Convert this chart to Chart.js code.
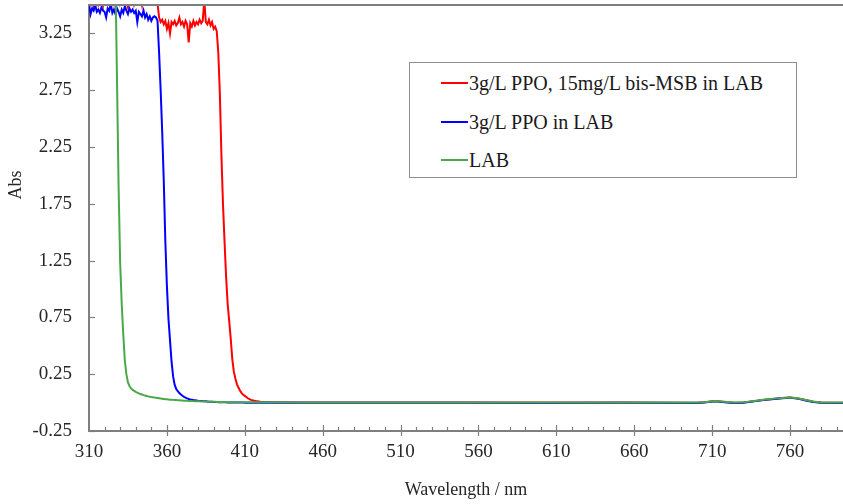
<!DOCTYPE html>
<html>
<head>
<meta charset="utf-8">
<script src="https://cdn.jsdelivr.net/npm/chart.js@4.4.0/dist/chart.umd.min.js"></script>
<style>
    body { margin: 0; background: #fff; }
    #wrap { position: relative; width: 843px; height: 504px; }
    #legend {
        position: absolute; left: 409px; top: 62px; width: 386px; height: 114px;
        border: 1px solid #8c8c8c; background: #fff;
        font-family: "Liberation Serif", "Times New Roman", serif; font-size: 20px; color: #1a1a1a;
    }
    .row { position: absolute; left: 31px; height: 24px; display: flex; align-items: center; white-space: nowrap; }
    .swatch { width: 27px; height: 2px; margin-right: 1px; }
</style>
</head>
<body>
<div id="wrap">
    <canvas id="absChart" width="843" height="504"></canvas>
    <div id="legend"></div>
</div>
<script>
// --- DATA ---
// 1 nm steps from 310 to 420, then a sparse tail
const denseStart = 310, denseEnd = 420;
const tailWavelengths = [430, 450, 500, 550, 600, 650, 700, 705, 712, 718, 724, 730, 737, 744, 750, 755, 760, 765, 770, 775, 780, 790, 800];

const seriesLabels = ['3g/L PPO, 15mg/L bis-MSB in LAB', '3g/L PPO in LAB', 'LAB'];
const seriesColors = ['#ff0000', '#0000ff', '#4aa84a'];

const redAbs = [
    3.55, 3.61, 3.53, 3.48, 3.57, 3.64, 3.52, 3.59, 3.56, 3.50,
    3.62, 3.54, 3.58, 3.53, 3.60, 3.55, 3.51, 3.59, 3.56, 3.64,
    3.52, 3.57, 3.54, 3.61, 3.53, 3.48, 3.58, 3.55, 3.62, 3.51,
    3.56, 3.59, 3.53, 3.57, 3.50, 3.61, 3.54, 3.58, 3.52, 3.56,
    3.59, 3.55, 3.53, 3.54, 3.51, 3.39, 3.35, 3.37, 3.33, 3.36,
    3.29, 3.34, 3.25, 3.35, 3.33, 3.36, 3.32, 3.34, 3.39, 3.33,
    3.35, 3.31, 3.36, 3.33, 3.17, 3.34, 3.31, 3.36, 3.32, 3.35,
    3.33, 3.37, 3.34, 3.36, 3.54, 3.35, 3.33, 3.37, 3.32, 3.35,
    3.29, 3.31, 3.27, 3.08, 2.72, 2.18, 1.75, 1.42, 1.11, 0.87,
    0.72, 0.56, 0.38, 0.27, 0.21, 0.161, 0.13, 0.105, 0.084, 0.069,
    0.059, 0.049, 0.038, 0.03, 0.024, 0.02, 0.017, 0.014, 0.012, 0.01,
    0.008,
    // tail
    0.004, 0.001, 0.0, 0.0, 0.0, 0.0, -0.001, 0.003, 0.013, 0.006, -0.001, 0.001,
    0.013, 0.026, 0.034, 0.04, 0.044, 0.037, 0.022, 0.008, 0.0, -0.001, -0.001
];

const blueAbs = [
    3.51, 3.42, 3.47, 3.45, 3.50, 3.44, 3.46, 3.43, 3.48, 3.45,
    3.44, 3.39, 3.47, 3.45, 3.51, 3.43, 3.46, 3.42, 3.47, 3.44,
    3.40, 3.46, 3.43, 3.49, 3.45, 3.42, 3.47, 3.44, 3.46, 3.43,
    3.45, 3.35, 3.44, 3.42, 3.40, 3.45, 3.39, 3.42, 3.37, 3.40,
    3.36, 3.39, 3.40, 3.39, 3.36, 3.08, 2.75, 2.38, 1.95, 1.42,
    1.03, 0.74, 0.55, 0.36, 0.23, 0.156, 0.12, 0.10, 0.084, 0.071,
    0.06, 0.05, 0.043, 0.037, 0.032, 0.028, 0.025, 0.022, 0.02, 0.018,
    0.016, 0.015, 0.014, 0.013, 0.012, 0.011, 0.01, 0.008, 0.007, 0.007,
    0.006, 0.005, 0.005, 0.004, 0.004, 0.003, 0.003, 0.002, 0.002, 0.001,
    0.001, 0.0, 0.0, 0.0, 0.0, 0.0, 0.0, 0.0, 0.0, 0.0,
    -0.001, -0.001, -0.001, -0.001, -0.001, -0.001, -0.001, -0.001, -0.001, -0.001,
    -0.001,
    // tail
    -0.001, -0.002, -0.002, -0.002, -0.003, -0.002, -0.003, 0.001, 0.011, 0.004, -0.003, -0.001,
    0.011, 0.024, 0.032, 0.038, 0.042, 0.035, 0.019, 0.006, -0.002, -0.003, -0.003
];

const greenAbs = [
    3.70, 3.70, 3.70, 3.70, 3.70, 3.70, 3.70, 3.70, 3.70, 3.70,
    3.70, 3.70, 3.70, 3.70, 3.70, 3.70, 3.70, 3.70, 2.82, 1.90,
    1.23, 0.87, 0.60, 0.37, 0.25, 0.177, 0.146, 0.125, 0.112, 0.103,
    0.094, 0.087, 0.081, 0.076, 0.071, 0.066, 0.062, 0.058, 0.055, 0.052,
    0.049, 0.047, 0.044, 0.042, 0.04, 0.038, 0.036, 0.034, 0.032, 0.03,
    0.029, 0.028, 0.026, 0.025, 0.024, 0.023, 0.022, 0.021, 0.02, 0.019,
    0.018, 0.017, 0.016, 0.016, 0.015, 0.014, 0.014, 0.013, 0.012, 0.012,
    0.011, 0.011, 0.01, 0.01, 0.009, 0.009, 0.008, 0.008, 0.008, 0.007,
    0.007, 0.007, 0.006, 0.006, 0.006, 0.005, 0.005, 0.005, 0.005, 0.004,
    0.004, 0.004, 0.004, 0.003, 0.003, 0.003, 0.003, 0.003, 0.003, 0.003,
    0.002, 0.002, 0.002, 0.002, 0.002, 0.002, 0.002, 0.002, 0.002, 0.002,
    0.002,
    // tail
    0.002, 0.001, 0.001, 0.001, 0.001, 0.001, 0.0, 0.004, 0.014, 0.007, 0.0, 0.002,
    0.014, 0.027, 0.035, 0.041, 0.045, 0.038, 0.023, 0.009, 0.001, 0.0, 0.0
];

const xMajorTicks = [310, 360, 410, 460, 510, 560, 610, 660, 710, 760];
const yTicks = [-0.25, 0.25, 0.75, 1.25, 1.75, 2.25, 2.75, 3.25];
const xMin = 310, xMax = 794, yMin = -0.25, yMax = 3.5;

const wavelengths = [];
for (let w = denseStart; w <= denseEnd; w++) wavelengths.push(w);
wavelengths.push(...tailWavelengths);

const toPoints = vals => wavelengths.map((w, i) => ({ x: w, y: vals[i] }));

// --- LEGEND (html box inside the plot) ---
const legendBox = document.getElementById('legend');
const rowTops = [8, 47, 85];
seriesLabels.forEach((label, i) => {
    const row = document.createElement('div');
    row.className = 'row';
    row.style.top = rowTops[i] + 'px';
    const sw = document.createElement('span');
    sw.className = 'swatch';
    sw.style.background = seriesColors[i];
    const txt = document.createElement('span');
    txt.textContent = label;
    row.appendChild(sw); row.appendChild(txt);
    legendBox.appendChild(row);
});

// --- FRAME, TICK MARKS, Y TITLE ---
const axisGray = '#7f7f7f';
const frameTicks = {
    id: 'frameTicks',
    afterDraw(chart) {
        const { ctx, chartArea: a, scales: { x, y } } = chart;
        const seg = (x1, y1, x2, y2) => { ctx.beginPath(); ctx.moveTo(x1, y1); ctx.lineTo(x2, y2); ctx.stroke(); };
        ctx.save();
        ctx.strokeStyle = axisGray;
        ctx.lineWidth = 2;
        seg(a.left - 1, a.top, a.right, a.top);
        ctx.lineWidth = 1.2;
        for (let v = xMin + 10; v < xMax; v += 10) {
            const px = Math.round(x.getPixelForValue(v)) + 0.5;
            if (xMajorTicks.includes(v)) seg(px, a.bottom - 6, px, a.bottom + 5);
            else seg(px, a.bottom, px, a.bottom - 4);
        }
        yTicks.forEach(v => {
            const py = Math.round(y.getPixelForValue(v)) + 0.5;
            seg(a.left, py, a.left + 6, py);
        });
        ctx.fillStyle = '#262626';
        ctx.font = '18px "Liberation Serif"';
        ctx.textAlign = 'center';
        ctx.textBaseline = 'middle';
        ctx.translate(16, 185);
        ctx.rotate(-Math.PI / 2);
        ctx.fillText('Abs', 0, 0);
        ctx.restore();
    }
};

const tickFont = { family: '"Liberation Serif"', size: 19 };

new Chart(document.getElementById('absChart'), {
    type: 'line',
    data: {
        datasets: seriesLabels.map((label, i) => ({
            label,
            data: toPoints([redAbs, blueAbs, greenAbs][i]),
            borderColor: seriesColors[i],
            borderWidth: 2,
            pointRadius: 0,
            tension: 0,
            order: 3 - i
        }))
    },
    options: {
        responsive: false,
        animation: false,
        layout: { padding: { top: 5, right: 0, left: 0, bottom: 0 } },
        plugins: { legend: { display: false }, tooltip: { enabled: false } },
        scales: {
            x: {
                type: 'linear', min: xMin, max: xMax,
                afterBuildTicks: s => { s.ticks = xMajorTicks.map(v => ({ value: v })); },
                afterFit: s => { s.height = 73; s.paddingLeft = 0; s.paddingRight = 0; },
                grid: { display: false, drawTicks: false },
                border: { display: true, color: axisGray, width: 2 },
                ticks: { font: tickFont, color: '#262626', padding: 10, maxRotation: 0, autoSkip: false },
                title: { display: true, text: 'Wavelength / nm', font: { family: '"Liberation Serif"', size: 18 }, color: '#262626', padding: { top: 0, bottom: 3 } }
            },
            y: {
                type: 'linear', min: yMin, max: yMax,
                afterBuildTicks: s => { s.ticks = yTicks.map(v => ({ value: v })); },
                afterFit: s => { s.width = 89; s.paddingTop = 0; s.paddingBottom = 0; },
                grid: { display: false, drawTicks: false },
                border: { display: true, color: axisGray, width: 2 },
                ticks: { font: tickFont, color: '#262626', padding: 17, callback: v => v.toFixed(2) }
            }
        }
    },
    plugins: [frameTicks]
});
</script>
</body>
</html>
